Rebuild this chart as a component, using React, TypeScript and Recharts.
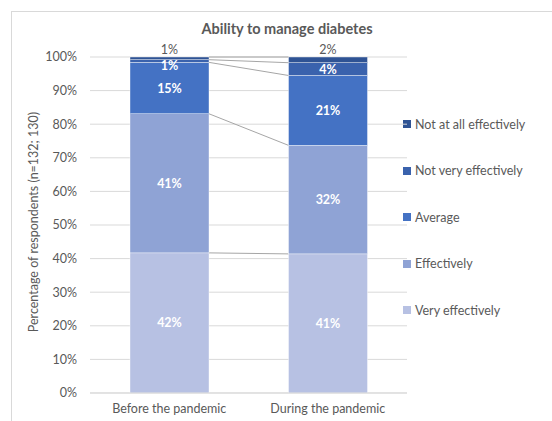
import React from "react";
import { BarChart, Bar, XAxis, YAxis, CartesianGrid, LabelList } from "recharts";

const categories = ["Before the pandemic", "During the pandemic"];
const veryEffectively = [41.7, 41.4];
const effectively = [41.4, 32.3];
const average = [15.3, 20.8];
const notVeryEffectively = [0.8, 3.8];
const notAtAllEffectively = [0.8, 1.7];
const yTicks = [0, 10, 20, 30, 40, 50, 60, 70, 80, 90, 100];

const series = [
  { key: "very", name: "Very effectively", values: veryEffectively, color: "#B7C1E3" },
  { key: "eff", name: "Effectively", values: effectively, color: "#8FA3D5" },
  { key: "avg", name: "Average", values: average, color: "#4472C4" },
  { key: "notVery", name: "Not very effectively", values: notVeryEffectively, color: "#3A62AD" },
  { key: "notAtAll", name: "Not at all effectively", values: notAtAllEffectively, color: "#2F5394" },
];

const data = categories.map((c, i) => {
  const row: Record<string, any> = { category: c };
  series.forEach((s) => (row[s.key] = s.values[i]));
  return row;
});

const FONT = "Lato, 'Open Sans', sans-serif";
const TEXT = "#595959";

const store: Record<string, { x: number; y: number }> = {};

const makeShape = (key: string) => (props: any) => {
  const { x, y, width, height, fill, index } = props;
  let line = null;
  if (index === 0) {
    store[key] = { x: x + width, y };
  } else if (store[key]) {
    line = (
      <line x1={store[key].x} y1={store[key].y} x2={x} y2={y} stroke="#A6A6A6" strokeWidth={1} />
    );
  }
  return (
    <g>
      <rect x={x} y={y} width={width} height={height} fill={fill} stroke="#FFFFFF" strokeWidth={0.4} />
      {line}
    </g>
  );
};

const insideLabel = (props: any) => {
  const { x, y, width, height, value } = props;
  const shift = height < 8 ? 4 : 0;
  return (
    <text
      x={x + width / 2}
      y={y + height / 2 + shift}
      textAnchor="middle"
      dominantBaseline="central"
      fill="#FFFFFF"
      fontWeight="bold"
      fontSize={12.5}
      fontFamily={FONT}
    >
      {`${Math.round(value)}%`}
    </text>
  );
};

const topLabel = (props: any) => {
  const { x, y, width, value } = props;
  return (
    <text
      x={x + width / 2}
      y={y - 8}
      textAnchor="middle"
      dominantBaseline="central"
      fill={TEXT}
      fontSize={12.5}
      fontFamily={FONT}
    >
      {`${Math.round(value)}%`}
    </text>
  );
};

export default function App() {
  return (
    <div
      style={{
        position: "fixed",
        left: 0,
        top: 0,
        width: 552,
        height: 421,
        overflow: "hidden",
        background: "#FFFFFF",
      }}
    >
      <div
        style={{
          position: "absolute",
          left: 11,
          top: 11,
          width: 700,
          height: 700,
          border: "1px solid #D9D9D9",
        }}
      />
      <div
        style={{
          position: "absolute",
          left: 187,
          width: 200,
          top: 20,
          textAlign: "center",
          fontFamily: FONT,
          fontWeight: "bold",
          fontSize: 14.5,
          color: TEXT,
          lineHeight: "18px",
        }}
      >
        Ability to manage diabetes
      </div>
      <div
        style={{
          position: "absolute",
          left: 403,
          top: 101,
          width: 149,
          fontFamily: FONT,
          fontSize: 12.5,
          color: TEXT,
        }}
      >
        {[...series].reverse().map((s) => (
          <div key={s.key} style={{ height: 46.5, display: "flex", alignItems: "center" }}>
            <span
              style={{ display: "inline-block", width: 8, height: 8, background: s.color, marginRight: 4 }}
            />
            <span>{s.name}</span>
          </div>
        ))}
      </div>
      <div style={{ position: "absolute", left: 0, top: 0 }}>
        <BarChart
          width={552}
          height={421}
          data={data}
          margin={{ top: 57, right: 145, bottom: 0, left: 0 }}
          barSize={79}
        >
          <CartesianGrid vertical={false} stroke="#D9D9D9" strokeWidth={1} />
          <XAxis
            dataKey="category"
            tickLine={false}
            axisLine={{ stroke: "#D9D9D9" }}
            tickSize={0}
            tickMargin={11}
            height={28}
            tick={{ fill: TEXT, fontSize: 12.5, fontFamily: FONT }}
          />
          <YAxis
            width={90}
            domain={[0, 100]}
            ticks={yTicks}
            tickFormatter={(v: number) => `${v}%`}
            tickLine={false}
            axisLine={false}
            tickSize={0}
            tickMargin={13}
            tick={{ fill: TEXT, fontSize: 12.5, fontFamily: FONT }}
            label={{
              content: () => (
                <text
                  x={33}
                  y={222}
                  transform="rotate(-90 33 222)"
                  textAnchor="middle"
                  dominantBaseline="central"
                  fill={TEXT}
                  fontSize={12.5}
                  fontFamily={FONT}
                >
                  Percentage of respondents (n=132; 130)
                </text>
              ),
            }}
          />
          {series.map((s) => (
            <Bar
              key={s.key}
              dataKey={s.key}
              name={s.name}
              stackId="a"
              fill={s.color}
              isAnimationActive={false}
              shape={makeShape(s.key)}
            >
              <LabelList dataKey={s.key} content={s.key === "notAtAll" ? topLabel : insideLabel} />
            </Bar>
          ))}
        </BarChart>
      </div>
    </div>
  );
}
